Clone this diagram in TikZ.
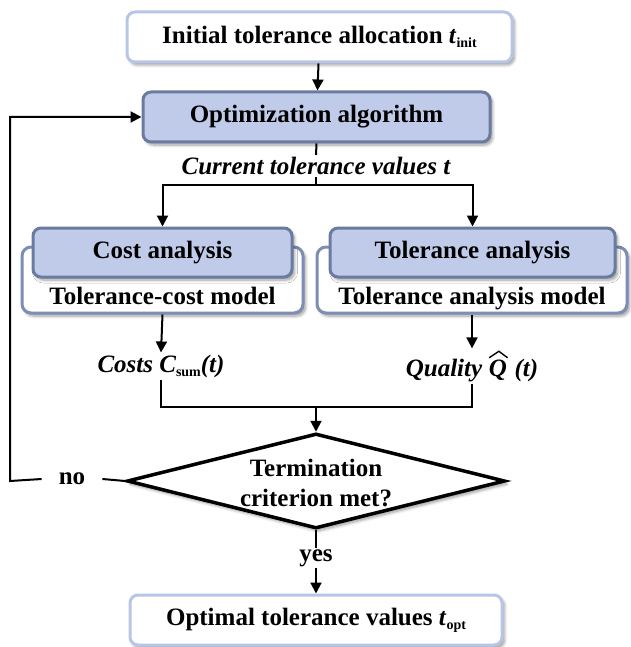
\documentclass[tikz,border=0pt]{standalone}
\usepackage{fontspec}
\setmainfont{Liberation Serif}
\usetikzlibrary{arrows.meta,shapes.geometric,shadows.blur,calc}

\definecolor{boxfill}{HTML}{C0CBE9}
\definecolor{boxdraw}{HTML}{6A7AA0}
\definecolor{lightedge}{HTML}{B7C5E6}
\definecolor{subedge}{HTML}{7D8DB3}

% wide hat over a bold italic Q
\newcommand{\hatQ}{\tikz[x=1pt,y=1pt,baseline=(qq.base)]{%
  \node[inner sep=0pt] (qq) {Q};
  \draw[line width=1.4pt,line join=miter]
    ([xshift=0.5pt,yshift=1.5pt]qq.north west) -- ([xshift=1pt,yshift=8pt]qq.north)
    -- ([xshift=0.5pt,yshift=1.5pt]qq.north east);}}
\newcommand{\sub}[1]{\raisebox{-4pt}{\fontsize{14}{14}\selectfont\bfseries\upshape #1}}

\begin{document}
\begin{tikzpicture}[x=1pt,y=-1pt,
  every node/.style={font=\fontsize{25}{29}\selectfont\bfseries},
  soft/.style={blur shadow={shadow xshift=2.5pt,shadow yshift=-3pt,
      shadow blur steps=6,shadow blur radius=3pt,shadow opacity=40}},
  endbox/.style={draw=lightedge,line width=3pt,fill=white,rounded corners=8pt,
      minimum height=50pt,soft},
  algbox/.style={draw=boxdraw,line width=3pt,fill=boxfill,rounded corners=8pt,
      minimum height=49pt,soft},
  modelbox/.style={draw=subedge,line width=3pt,fill=white,rounded corners=9pt,
      minimum height=66pt,text depth=0pt,soft},
  lbl/.style={font=\fontsize{25}{29}\selectfont\bfseries\itshape,inner sep=2pt},
  link/.style={line width=2pt,draw=black},
  arr/.style={link,-{Triangle[length=11pt,width=11pt]}}]

\useasboundingbox (0,0) rectangle (630,647);

% start and end
\node[endbox,minimum width=385pt] (init) at (319.5,37) {Initial tolerance allocation \textit{t}\sub{init}};
\node[algbox,minimum width=347pt,minimum height=50pt] (opt) at (316.5,117) {Optimization algorithm};

\node[lbl] (cur) at (316,166) {Current tolerance values t};

% analysis blocks: model frame behind, method box in front
\node[modelbox,minimum width=281pt] (costmodel) at (162.5,280) {};
\node[anchor=base] (costmodeltxt) at (162.5,304) {Tolerance-cost model};
\node[algbox,minimum width=259pt] (cost) at (162.5,252.5) {Cost analysis};

\node[modelbox,minimum width=310pt] (tolmodel) at (472,280) {};
\node[anchor=base] (tolmodeltxt) at (472,304) {Tolerance analysis model};
\node[algbox,minimum width=285pt] (tol) at (472.5,252.5) {Tolerance analysis};

\node[lbl] (costs) at (161,366) {Costs C\sub{sum}(t)};
\node[lbl] (quality) at (472,366) {Quality \hatQ\ (t)};

% decision
\node[diamond,draw=black,line width=3.5pt,fill=white,minimum width=378pt,
      minimum height=95pt,inner sep=0pt,soft] (dec) at (316,481) {};
\node[align=center,font=\fontsize{25}{30}\selectfont\bfseries] (dectxt) at (316,483) {Termination\\criterion met?};

\node[inner xsep=17pt,inner ysep=2pt] (no) at (72,479) {no};
\node[inner sep=1pt] (yes) at (316,558) {yes};

\node[endbox,minimum width=372pt] (final) at (316,620) {Optimal tolerance values \textit{t}\sub{opt}};

% connectors
\coordinate (split) at (316,185);
\coordinate (merge) at (316,407);
\coordinate (loop) at (10,481);

\draw[arr] (init) -- (opt);
\draw[link] (opt.south) -- (cur.north);
\draw[link] (cur.south) -- (split);
\draw[arr] (split) -| (cost.north);
\draw[arr] (split) -| (tol.north);
\draw[arr] (costmodel.south) -- (costs.north);
\draw[arr] (tolmodel.south) -- (quality.north);
\draw[link] (costs.south) |- (merge);
\draw[link] (quality.south) |- (merge);
\draw[arr] (merge) -- (dec.north);
\draw[link] (dec.west) -- (no.east);
\draw[arr] (no.west) -- (loop) |- (opt.west);
\draw[link] (dec.south) -- (yes.north);
\draw[arr] (yes.south) -- (final.north);
\end{tikzpicture}
\end{document}
